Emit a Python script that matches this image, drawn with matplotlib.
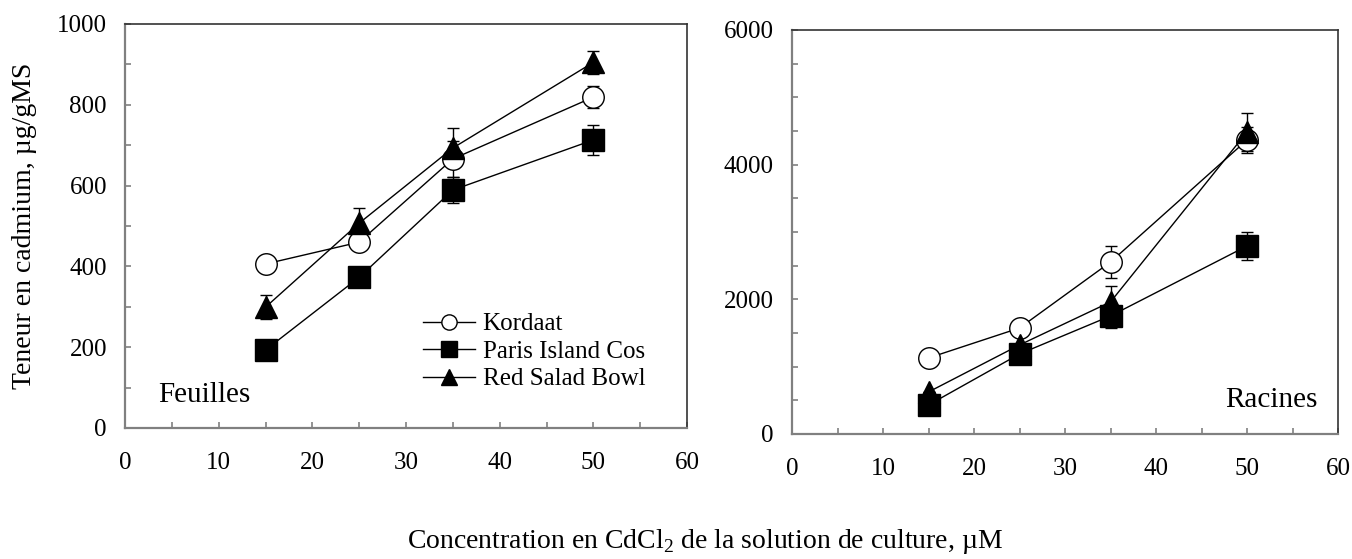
import matplotlib
matplotlib.use("Agg")
import matplotlib.pyplot as plt
from matplotlib.lines import Line2D
from matplotlib.ticker import MultipleLocator

plt.rcParams['font.family'] = ['Liberation Serif', 'DejaVu Serif']
plt.rcParams['mathtext.fontset'] = 'custom'
plt.rcParams['mathtext.rm'] = 'Liberation Serif'

conc = [15, 25, 35, 50]
varietes = ['Kordaat', 'Paris Island Cos', 'Red Salad Bowl']

# feuilles (leaves)
feu_kordaat = [406, 460, 666, 819]
feu_paris = [193, 373, 589, 713]
feu_red = [299, 507, 693, 905]
feu_kordaat_err = [0, 0, 45, 27]
feu_paris_err = [0, 0, 32, 37]
feu_red_err = [30, 38, 50, 28]

# racines (roots)
rac_kordaat = [1129, 1574, 2554, 4366]
rac_paris = [431, 1188, 1753, 2792]
rac_red = [624, 1322, 1961, 4485]
rac_kordaat_err = [0, 0, 240, 200]
rac_paris_err = [0, 0, 180, 210]
rac_red_err = [0, 0, 240, 280]

fig = plt.figure(figsize=(13.52, 5.59), dpi=100)
ax1 = fig.add_axes([125/1352, 1-428/559, 562/1352, 404/559])
ax2 = fig.add_axes([792/1352, 1-434/559, 546/1352, 404/559])

styles = [dict(marker='o', mfc='white', mec='black'),
          dict(marker='s', mfc='black', mec='black'),
          dict(marker='^', mfc='black', mec='black')]

def trace(ax, series, errs):
    for vals, err, st in zip(series, errs, styles):
        ax.errorbar(conc, vals, yerr=err, color='black', lw=1, ms=15.5,
                    capsize=4.5, elinewidth=1, capthick=1, zorder=3, **st)

trace(ax1, [feu_kordaat, feu_paris, feu_red],
      [feu_kordaat_err, feu_paris_err, feu_red_err])
trace(ax2, [rac_kordaat, rac_paris, rac_red],
      [rac_kordaat_err, rac_paris_err, rac_red_err])

ax1.set_xlim(0, 60)
ax1.set_ylim(0, 1000)
ax1.yaxis.set_major_locator(MultipleLocator(200))
ax1.yaxis.set_minor_locator(MultipleLocator(100))
ax2.set_xlim(0, 60)
ax2.set_ylim(0, 6000)
ax2.yaxis.set_major_locator(MultipleLocator(2000))
ax2.yaxis.set_minor_locator(MultipleLocator(500))

for ax in (ax1, ax2):
    ax.xaxis.set_major_locator(MultipleLocator(10))
    ax.xaxis.set_minor_locator(MultipleLocator(5))
    ax.tick_params(which='both', direction='in', labelsize=18, color='#808080',
                   length=4.5, width=1.2)
    ax.tick_params(axis='x', which='major', pad=17)
    ax.tick_params(axis='y', which='major', pad=13)
    for side in ('left', 'bottom'):
        ax.spines[side].set_color('#808080')
        ax.spines[side].set_linewidth(1.6)
    for side in ('top', 'right'):
        ax.spines[side].set_color('#333333')
        ax.spines[side].set_linewidth(1.2)

ax1.text(0.059, 0.082, 'Feuilles', transform=ax1.transAxes, fontsize=21,
         va='center')
ax2.text(0.962, 0.084, 'Racines', transform=ax2.transAxes, fontsize=21,
         ha='right', va='center')

handles = [Line2D([], [], color='black', lw=1, ms=11, **st) for st in styles]
ax1.legend(handles, varietes, loc='upper left', bbox_to_anchor=(0.531, 0.285),
           frameon=False, fontsize=18, handlelength=2.05, handletextpad=0.32,
           labelspacing=0.2, borderpad=0, borderaxespad=0)

ax1.set_ylabel('Teneur en cadmium, µg/gMS', fontsize=20, labelpad=14)
fig.text(705/1352, 1-542/559,
         r'Concentration en CdCl$_2$ de la solution de culture, µM',
         ha='center', va='center', fontsize=20)

fig.savefig('out.png', dpi=100)
